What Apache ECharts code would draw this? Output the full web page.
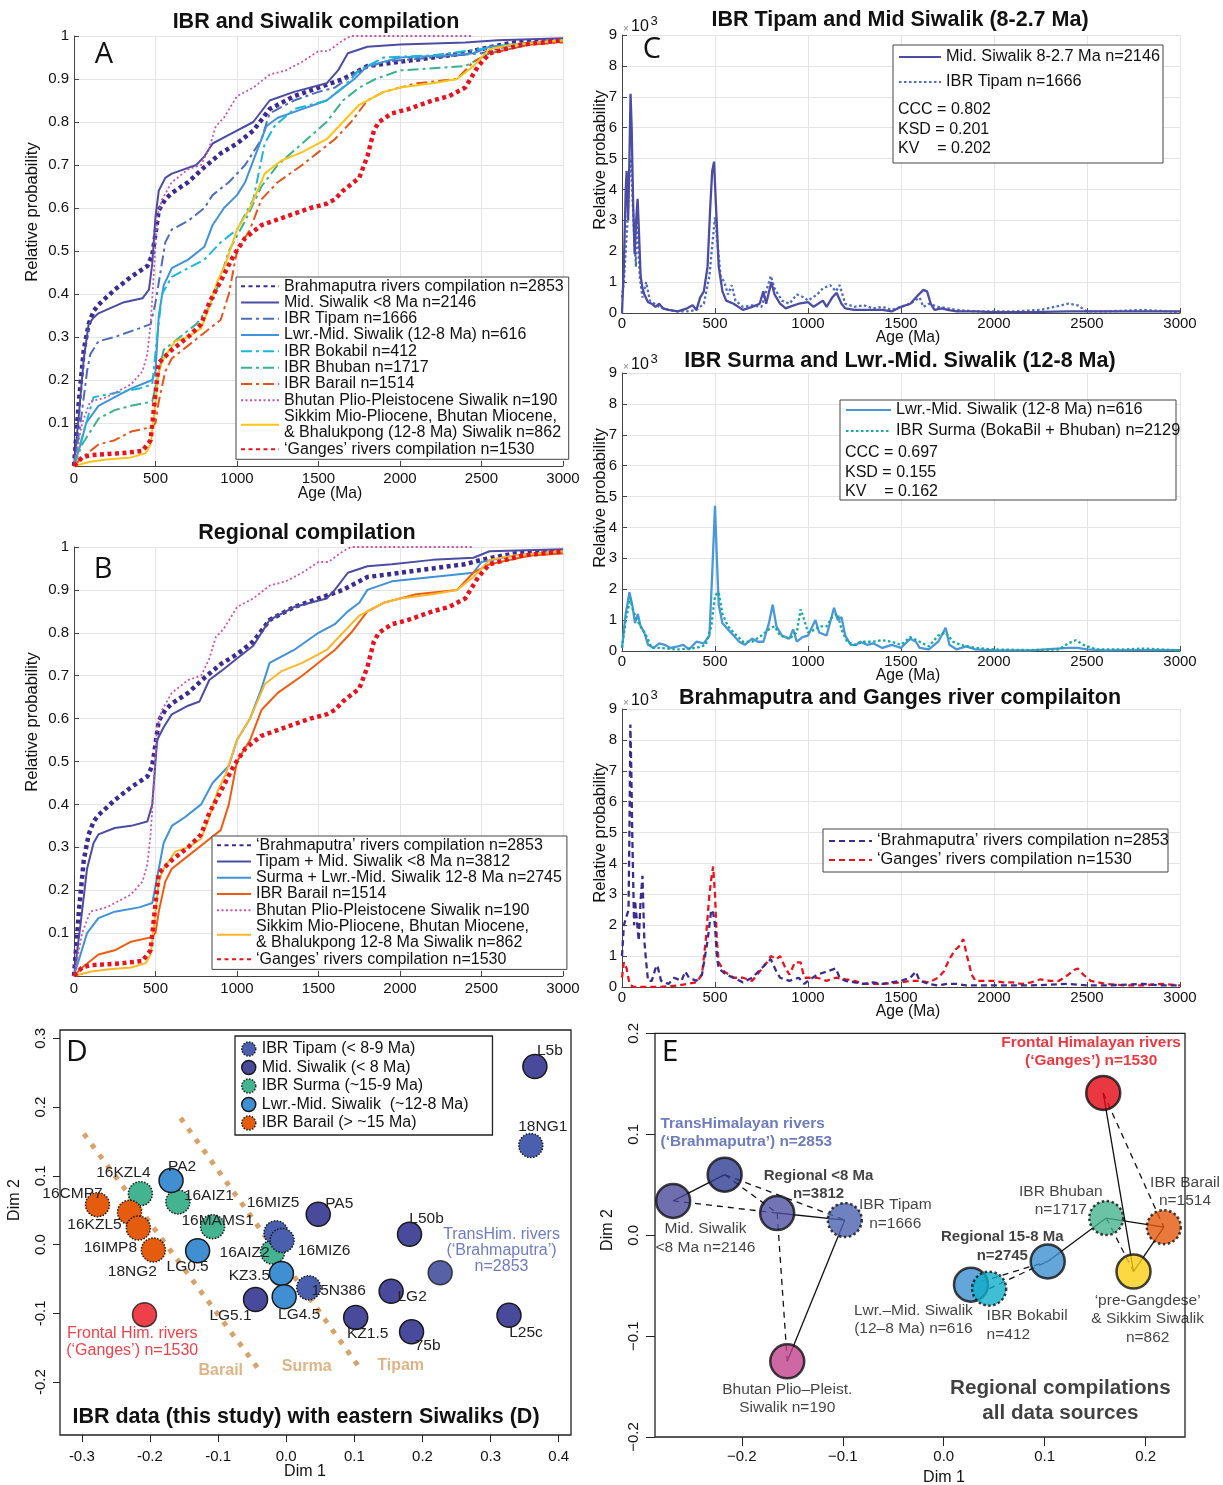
<!DOCTYPE html>
<html>
<head>
<meta charset="utf-8">
<script src="https://cdn.jsdelivr.net/npm/echarts@6/dist/echarts.min.js"></script>
<style>
  body { margin: 0; background: #fff; }
  .p { position: absolute; }
</style>
</head>
<body>
<div id="pa" class="p" style="left:0;top:0;width:590px;height:512px"></div>
<div id="pb" class="p" style="left:0;top:512px;width:590px;height:508px"></div>
<div id="pc1" class="p" style="left:590px;top:0;width:633px;height:345px"></div>
<div id="pc2" class="p" style="left:590px;top:345px;width:633px;height:340px"></div>
<div id="pc3" class="p" style="left:590px;top:685px;width:633px;height:335px"></div>
<div id="pd" class="p" style="left:0;top:1020px;width:595px;height:465px"></div>
<div id="pe" class="p" style="left:595px;top:1020px;width:628px;height:465px"></div>
<script>
// ---- cumulative curves (A, B): age (Ma) and relative probability ----
var brahmAge = [0, 30, 60, 90, 120, 150, 250, 350, 450, 480, 500, 520, 560, 600, 700, 800, 900, 1000, 1100, 1200, 1350, 1500, 1650, 1800, 2000, 2200, 2400, 2500, 2700, 3000];
var brahmCdf = [0, 0.15, 0.27, 0.33, 0.36, 0.375, 0.41, 0.44, 0.465, 0.49, 0.54, 0.595, 0.62, 0.635, 0.66, 0.695, 0.727, 0.75, 0.78, 0.83, 0.86, 0.88, 0.90, 0.93, 0.94, 0.95, 0.96, 0.97, 0.985, 0.99];
var midAge = [0, 30, 60, 90, 120, 150, 300, 420, 460, 480, 500, 520, 560, 600, 750, 800, 850, 950, 1100, 1200, 1350, 1550, 1620, 1680, 1800, 2000, 2400, 2600, 3000];
var midCdf = [0, 0.12, 0.25, 0.33, 0.345, 0.355, 0.38, 0.39, 0.41, 0.47, 0.58, 0.64, 0.67, 0.68, 0.70, 0.72, 0.75, 0.77, 0.80, 0.85, 0.87, 0.89, 0.92, 0.96, 0.975, 0.98, 0.985, 0.99, 0.995];
var tipamAge = [0, 40, 80, 100, 150, 250, 400, 470, 500, 530, 560, 600, 700, 800, 850, 950, 1050, 1150, 1200, 1350, 1500, 1600, 1750, 1900, 2200, 2500, 2700, 3000];
var tipamCdf = [0, 0.1, 0.22, 0.26, 0.29, 0.30, 0.32, 0.33, 0.38, 0.45, 0.52, 0.55, 0.57, 0.60, 0.63, 0.66, 0.70, 0.76, 0.82, 0.85, 0.87, 0.88, 0.92, 0.94, 0.95, 0.96, 0.98, 0.99];
var lwrAge = [0, 40, 75, 150, 250, 350, 480, 500, 520, 550, 600, 700, 800, 850, 920, 1000, 1050, 1100, 1180, 1250, 1400, 1550, 1650, 1720, 1800, 2000, 2300, 2450, 2550, 2800, 3000];
var lwrCdf = [0, 0.05, 0.1, 0.14, 0.16, 0.18, 0.2, 0.22, 0.35, 0.42, 0.46, 0.48, 0.51, 0.56, 0.60, 0.63, 0.66, 0.71, 0.79, 0.81, 0.83, 0.85, 0.88, 0.90, 0.93, 0.95, 0.955, 0.96, 0.975, 0.985, 0.99];
var bokaAge = [0, 60, 120, 250, 400, 480, 510, 540, 600, 700, 800, 900, 1000, 1100, 1170, 1230, 1350, 1450, 1550, 1650, 1750, 1900, 2200, 2500, 2700, 3000];
var bokaCdf = [0, 0.08, 0.16, 0.17, 0.18, 0.19, 0.30, 0.40, 0.44, 0.46, 0.48, 0.52, 0.55, 0.62, 0.75, 0.79, 0.83, 0.84, 0.85, 0.88, 0.92, 0.95, 0.955, 0.97, 0.98, 0.99];
var bhubAge = [0, 50, 150, 250, 350, 480, 510, 550, 650, 750, 850, 900, 950, 1050, 1150, 1250, 1400, 1550, 1650, 1750, 1850, 2000, 2400, 2550, 2800, 3000];
var bhubCdf = [0, 0.05, 0.11, 0.13, 0.14, 0.15, 0.2, 0.27, 0.30, 0.33, 0.38, 0.44, 0.50, 0.57, 0.65, 0.70, 0.75, 0.80, 0.85, 0.88, 0.90, 0.92, 0.93, 0.96, 0.98, 0.99];
var barAge = [0, 50, 150, 250, 350, 470, 500, 520, 560, 600, 700, 800, 900, 950, 1000, 1080, 1150, 1250, 1400, 1500, 1600, 1700, 1800, 1900, 2100, 2350, 2450, 2550, 2800, 3000];
var barCdf = [0, 0.02, 0.05, 0.06, 0.08, 0.09, 0.1, 0.15, 0.22, 0.25, 0.28, 0.31, 0.34, 0.40, 0.50, 0.55, 0.62, 0.66, 0.70, 0.73, 0.76, 0.80, 0.85, 0.87, 0.89, 0.90, 0.94, 0.96, 0.98, 0.985];
var bhutAge = [0, 50, 100, 200, 300, 350, 420, 450, 470, 490, 510, 540, 600, 700, 780, 830, 870, 920, 1000, 1100, 1200, 1300, 1400, 1500, 1560, 1650, 1700, 2450];
var bhutCdf = [0, 0.1, 0.15, 0.16, 0.18, 0.19, 0.22, 0.26, 0.33, 0.45, 0.58, 0.62, 0.66, 0.69, 0.70, 0.74, 0.79, 0.81, 0.86, 0.88, 0.91, 0.92, 0.94, 0.965, 0.965, 0.99, 1.0, 1.0];
var sikAge = [0, 100, 200, 350, 440, 470, 500, 520, 550, 620, 700, 780, 830, 880, 930, 1000, 1080, 1170, 1270, 1400, 1550, 1650, 1750, 1900, 2000, 2200, 2350, 2450, 2550, 2700, 3000];
var sikCdf = [0, 0.01, 0.015, 0.02, 0.03, 0.05, 0.15, 0.22, 0.25, 0.29, 0.30, 0.32, 0.37, 0.43, 0.47, 0.55, 0.60, 0.68, 0.71, 0.73, 0.76, 0.80, 0.84, 0.87, 0.88, 0.89, 0.90, 0.93, 0.97, 0.98, 0.99];
var gangAge = [0, 50, 100, 300, 420, 470, 495, 520, 600, 700, 780, 830, 900, 980, 1050, 1150, 1300, 1450, 1550, 1600, 1650, 1750, 1800, 1840, 1870, 1950, 2050, 2200, 2300, 2400, 2480, 2550, 2750, 3000];
var gangCdf = [0, 0.02, 0.025, 0.03, 0.035, 0.06, 0.15, 0.24, 0.27, 0.30, 0.33, 0.38, 0.43, 0.49, 0.53, 0.56, 0.58, 0.60, 0.61, 0.62, 0.64, 0.67, 0.72, 0.78, 0.80, 0.82, 0.83, 0.85, 0.86, 0.88, 0.93, 0.96, 0.98, 0.99];
var tipMidAge = [0, 40, 80, 120, 150, 250, 350, 450, 480, 510, 550, 600, 700, 770, 830, 900, 1000, 1100, 1200, 1350, 1550, 1600, 1680, 1800, 1950, 2200, 2450, 2550, 3000];
var tipMidCdf = [0, 0.12, 0.25, 0.31, 0.33, 0.345, 0.35, 0.36, 0.40, 0.55, 0.58, 0.61, 0.63, 0.64, 0.69, 0.71, 0.74, 0.77, 0.83, 0.86, 0.88, 0.90, 0.94, 0.955, 0.96, 0.97, 0.975, 0.99, 0.995];
var surLwrAge = [0, 40, 80, 150, 250, 400, 480, 520, 550, 600, 680, 780, 850, 950, 1000, 1080, 1150, 1200, 1350, 1500, 1600, 1680, 1750, 1800, 1950, 2200, 2450, 2500, 2700, 3000];
var surLwrCdf = [0, 0.05, 0.1, 0.135, 0.15, 0.16, 0.17, 0.25, 0.31, 0.35, 0.37, 0.40, 0.45, 0.49, 0.55, 0.60, 0.67, 0.73, 0.76, 0.80, 0.82, 0.85, 0.87, 0.90, 0.92, 0.93, 0.94, 0.965, 0.98, 0.99];

// ---- probability density curves (C), values x 10^-3 ----
var pMidAge = [0, 10, 20, 25, 33, 40, 46, 52, 60, 68, 76, 84, 92, 100, 110, 120, 140, 160, 180, 200, 220, 250, 300, 350, 380, 400, 420, 440, 460, 475, 485, 495, 505, 520, 540, 560, 600, 650, 700, 740, 760, 775, 803, 820, 850, 880, 900, 950, 1000, 1030, 1080, 1100, 1130, 1154, 1180, 1200, 1250, 1300, 1400, 1450, 1500, 1550, 1580, 1620, 1640, 1660, 1680, 1720, 1750, 1800, 1900, 2000, 2200, 2400, 2500, 2800, 3000];
var pMidVal = [0, 1.5, 4.0, 4.6, 3.0, 5.0, 7.1, 6.0, 3.5, 1.9, 3.0, 3.7, 2.5, 1.2, 0.8, 0.6, 0.35, 0.3, 0.2, 0.3, 0.15, 0.1, 0.05, 0.15, 0.25, 0.1, 0.5, 0.7, 1.5, 3.5, 4.6, 4.9, 3.5, 1.5, 0.7, 0.4, 0.3, 0.1, 0.2, 0.3, 0.7, 0.3, 1.0, 0.6, 0.3, 0.15, 0.2, 0.3, 0.35, 0.2, 0.4, 0.2, 0.5, 0.65, 0.3, 0.15, 0.1, 0.1, 0.1, 0.05, 0.2, 0.3, 0.5, 0.75, 0.7, 0.3, 0.1, 0.15, 0.1, 0.05, 0.05, 0.03, 0.03, 0.05, 0.05, 0.05, 0.05];
var pTipAge = [0, 10, 20, 30, 40, 50, 55, 65, 75, 80, 85, 95, 110, 130, 150, 200, 250, 300, 350, 400, 440, 470, 490, 500, 510, 530, 550, 570, 590, 610, 650, 700, 750, 780, 800, 820, 860, 900, 940, 980, 1000, 1050, 1080, 1120, 1150, 1170, 1200, 1250, 1300, 1350, 1400, 1450, 1500, 1550, 1600, 1620, 1650, 1700, 1750, 1800, 1900, 2000, 2100, 2250, 2400, 2450, 2500, 2600, 2800, 3000];
var pTipVal = [0.5, 1.0, 2.0, 3.0, 4.5, 5.0, 4.0, 2.5, 1.5, 3.0, 2.8, 1.2, 0.5, 1.0, 0.4, 0.2, 0.1, 0.05, 0.05, 0.1, 0.3, 1.2, 2.5, 3.1, 2.5, 1.2, 1.0, 0.6, 0.9, 0.4, 0.2, 0.25, 0.2, 0.8, 1.2, 0.8, 0.4, 0.3, 0.6, 0.5, 0.4, 0.6, 0.8, 0.9, 0.7, 0.9, 0.3, 0.2, 0.25, 0.15, 0.2, 0.1, 0.2, 0.3, 0.5, 0.2, 0.3, 0.2, 0.15, 0.1, 0.05, 0.05, 0.05, 0.1, 0.3, 0.25, 0.05, 0.05, 0.1, 0.03];
var pLwrAge = [0, 20, 40, 55, 70, 85, 100, 120, 140, 170, 200, 230, 260, 300, 330, 360, 400, 440, 470, 485, 500, 510, 520, 540, 570, 600, 630, 660, 700, 730, 760, 790, 810, 830, 860, 900, 920, 940, 970, 1000, 1040, 1060, 1100, 1140, 1160, 1180, 1200, 1230, 1260, 1280, 1320, 1350, 1400, 1450, 1500, 1550, 1580, 1600, 1650, 1700, 1740, 1760, 1800, 1850, 1900, 2000, 2200, 2400, 2450, 2500, 2600, 2800, 3000];
var pLwrVal = [0.1, 1.2, 1.9, 1.5, 0.9, 1.2, 0.8, 0.6, 0.2, 0.1, 0.25, 0.2, 0.1, 0.15, 0.2, 0.05, 0.3, 0.25, 0.5, 2.5, 4.7, 3.0, 1.5, 0.9, 0.7, 0.5, 0.3, 0.2, 0.4, 0.3, 0.3, 0.9, 1.5, 0.8, 0.5, 0.4, 0.7, 0.3, 0.45, 0.5, 1.0, 0.6, 0.5, 1.4, 1.0, 1.1, 0.5, 0.2, 0.2, 0.3, 0.2, 0.25, 0.1, 0.2, 0.1, 0.4, 0.3, 0.1, 0.05, 0.3, 0.75, 0.2, 0.05, 0.15, 0.05, 0.02, 0.02, 0.1, 0.1, 0.05, 0.02, 0.03, 0.03];
var pSurAge = [0, 20, 45, 60, 80, 100, 130, 160, 200, 300, 400, 450, 480, 500, 520, 540, 570, 600, 650, 700, 750, 790, 820, 850, 900, 940, 960, 980, 1000, 1040, 1060, 1100, 1130, 1160, 1180, 1210, 1250, 1300, 1350, 1400, 1450, 1500, 1550, 1600, 1650, 1700, 1740, 1780, 1820, 1900, 2000, 2200, 2350, 2400, 2440, 2480, 2550, 2700, 2800, 2900, 3000];
var pSurVal = [0.1, 1.0, 1.7, 1.3, 1.0, 0.8, 0.5, 0.1, 0.1, 0.05, 0.1, 0.2, 0.8, 1.8, 1.9, 1.2, 0.8, 0.6, 0.3, 0.3, 0.5, 0.7, 0.8, 0.5, 0.4, 0.6, 1.35, 1.0, 0.6, 0.7, 0.8, 0.8, 1.1, 1.2, 0.7, 0.3, 0.2, 0.3, 0.3, 0.35, 0.3, 0.2, 0.45, 0.3, 0.15, 0.5, 0.6, 0.3, 0.2, 0.1, 0.05, 0.03, 0.05, 0.25, 0.35, 0.2, 0.05, 0.05, 0.08, 0.05, 0.02];
var pBraAge = [0, 10, 20, 35, 40, 45, 50, 55, 65, 70, 80, 90, 100, 110, 120, 130, 140, 160, 180, 190, 210, 250, 280, 320, 340, 360, 400, 430, 460, 480, 490, 500, 510, 520, 560, 600, 650, 700, 750, 780, 800, 830, 850, 900, 950, 980, 1000, 1050, 1100, 1150, 1170, 1200, 1250, 1300, 1350, 1400, 1450, 1500, 1550, 1580, 1600, 1650, 1700, 1750, 1800, 1850, 1900, 2000, 2200, 2400, 2500, 2600, 2800, 2900, 3000];
var pBraVal = [1.0, 2.0, 2.2, 2.5, 5.0, 8.5, 7.0, 5.0, 2.0, 2.8, 2.8, 1.5, 2.8, 3.6, 1.5, 0.8, 0.2, 0.2, 0.6, 0.7, 0.2, 0.1, 0.3, 0.2, 0.5, 0.3, 0.2, 0.4, 1.5, 2.5, 2.4, 2.0, 1.0, 0.6, 0.4, 0.3, 0.15, 0.3, 0.6, 0.8, 0.9, 0.5, 0.3, 0.2, 0.3, 0.1, 0.2, 0.4, 0.5, 0.6, 0.3, 0.2, 0.15, 0.1, 0.15, 0.1, 0.15, 0.2, 0.3, 0.5, 0.2, 0.1, 0.05, 0.1, 0.1, 0.05, 0.05, 0.05, 0.05, 0.1, 0.05, 0.05, 0.1, 0.05, 0.05];
var pGanAge = [0, 10, 25, 40, 60, 100, 200, 300, 350, 400, 430, 450, 470, 480, 490, 500, 510, 520, 550, 600, 650, 700, 740, 780, 800, 830, 850, 880, 900, 930, 960, 980, 1000, 1050, 1100, 1150, 1200, 1250, 1300, 1400, 1500, 1550, 1600, 1650, 1700, 1730, 1760, 1790, 1810, 1835, 1855, 1880, 1900, 1950, 2000, 2050, 2100, 2150, 2200, 2250, 2300, 2350, 2400, 2430, 2450, 2480, 2520, 2600, 2700, 2800, 2900, 3000];
var pGanVal = [0.3, 0.8, 0.6, 0.1, 0, 0, 0, 0.05, 0.1, 0.15, 0.4, 1.5, 3.0, 3.5, 3.9, 3.0, 1.5, 0.8, 0.5, 0.3, 0.3, 0.2, 0.5, 0.8, 1.0, 0.9, 1.0, 0.6, 0.4, 0.8, 0.8, 0.3, 0.3, 0.3, 0.2, 0.3, 0.25, 0.2, 0.1, 0.1, 0.15, 0.2, 0.2, 0.15, 0.3, 0.5, 0.9, 1.2, 1.3, 1.55, 1.0, 0.4, 0.2, 0.2, 0.2, 0.15, 0.15, 0.1, 0.15, 0.25, 0.2, 0.2, 0.4, 0.55, 0.6, 0.4, 0.2, 0.1, 0.05, 0.05, 0.1, 0.05];

// ---- MDS panel D ----
var tipNames = ['18NG1', '16MIZ5', '16MIZ6', '15N386'];
var tipX = [0.359, -0.015, -0.006, 0.033];
var tipY = [0.144, 0.017, 0.006, -0.063];
var midNames = ['L5b', 'PA5', 'L50b', 'LG2', 'KZ1.5', '75b', 'L25c', 'LG5.1'];
var midX = [0.365, 0.047, 0.181, 0.154, 0.102, 0.184, 0.327, -0.045];
var midY = [0.259, 0.044, 0.015, -0.068, -0.106, -0.127, -0.103, -0.080];
var surNames = ['16KZL4', '16AIZ1', '16MAMS1', '16AIZ2'];
var surX = [-0.214, -0.159, -0.108, -0.020];
var surY = [0.074, 0.062, 0.026, -0.011];
var lwrNames = ['PA2', 'LG0.5', 'KZ3.5', 'LG4.5'];
var lwrX = [-0.169, -0.130, -0.007, -0.003];
var lwrY = [0.093, -0.009, -0.042, -0.076];
var barNames = ['16CMP7', '16KZL5', '16IMP8', '18NG2'];
var barX = [-0.277, -0.230, -0.217, -0.195];
var barY = [0.058, 0.047, 0.024, -0.008];
var riverX = [0.226, -0.208];
var riverY = [-0.041, -0.102];
var barailLineX = [-0.297, -0.037];
var barailLineY = [0.161, -0.186];
var surmaLineX = [-0.155, 0.111];
var surmaLineY = [0.184, -0.184];
var dTicksX = [-0.3, -0.2, -0.1, 0, 0.1, 0.2, 0.3, 0.4];
var dTicksY = [-0.2, -0.1, 0, 0.1, 0.2, 0.3];

// ---- MDS panel E ----
var eNames = ['Brahmaputra', 'MidSiwalik', 'Regional8', 'Tipam', 'Bhutan', 'Ganges', 'Bhuban', 'Barail', 'Sikkim', 'Regional158', 'LwrMid', 'Bokabil'];
var eX = [-0.217, -0.268, -0.165, -0.098, -0.155, 0.158, 0.161, 0.218, 0.188, 0.103, 0.027, 0.045];
var eY = [0.060, 0.034, 0.022, 0.015, -0.125, 0.141, 0.017, 0.008, -0.036, -0.026, -0.049, -0.053];
var eSolid = [['MidSiwalik', 'Brahmaputra'], ['Regional8', 'Tipam'], ['Tipam', 'Bhutan'], ['Ganges', 'Sikkim'], ['Bhuban', 'Barail'], ['Barail', 'Sikkim'], ['Regional158', 'Bhuban']];
var eDashed = [['Brahmaputra', 'Regional8'], ['Brahmaputra', 'Tipam'], ['MidSiwalik', 'Regional8'], ['Regional8', 'Bhutan'], ['Ganges', 'Barail'], ['Bhuban', 'Sikkim'], ['LwrMid', 'Regional158'], ['Bokabil', 'Regional158']];
var eTicks = [-0.2, -0.1, 0, 0.1, 0.2];

// ---------------------------------------------------------------
var FONT = '"Liberation Sans", Arial, Helvetica, sans-serif';
var LFONT = '"Open Sans", "DejaVu Sans", sans-serif';

function xy(xs, ys) {
	return xs.map(function (x, i) { return [x, ys[i]]; });
}

function txt(x, y, s, o) {
	o = o || {};
	return {
		type: 'text', x: x, y: y, rotation: o.rot || 0, z: 100,
		style: {
			text: s, fontSize: o.size || 14, fontWeight: o.bold ? 'bold' : 'normal',
			fontFamily: o.font || FONT, fill: o.color || '#111',
			align: o.align || 'center', verticalAlign: 'middle', lineHeight: o.lh
		}
	};
}

function ln(name, xs, ys, color, width, type) {
	return {
		name: name, type: 'line', data: xy(xs, ys), symbol: 'none', showSymbol: false,
		silent: true, lineStyle: { color: color, width: width, type: type || 'solid', cap: 'butt' },
		itemStyle: { color: color }
	};
}

function ageAxis(labelMargin) {
	return {
		type: 'value', min: 0, max: 3000, interval: 500,
		axisLine: { show: true, lineStyle: { color: '#444' } },
		axisTick: { show: true, inside: true, length: 5, lineStyle: { color: '#444' } },
		axisLabel: { color: '#111', fontSize: 15, margin: labelMargin, fontFamily: FONT, formatter: function (v) { return String(v); } },
		splitLine: { show: true, lineStyle: { color: '#e4e4e4' } }
	};
}

function leftAxis(max, step, fmt) {
	return {
		type: 'value', min: 0, max: max, interval: step,
		axisLine: { show: true, lineStyle: { color: '#444' } },
		axisTick: { show: true, inside: true, length: 5, lineStyle: { color: '#444' } },
		axisLabel: { color: '#111', fontSize: 15, margin: 5, fontFamily: FONT, formatter: fmt },
		splitLine: { show: true, lineStyle: { color: '#e4e4e4' } }
	};
}

function probFmt(v) {
	if (v === 0) return '';
	if (Math.abs(v - 1) < 1e-9) return '1';
	return v.toFixed(1);
}

function lineLegend(left, top, iconW, names) {
	return {
		orient: 'vertical', left: left, top: top, itemWidth: iconW, itemHeight: 10, itemGap: 0,
		data: names, selectedMode: false, backgroundColor: '#fff', borderColor: '#444', borderWidth: 1,
		borderRadius: 0, padding: [1, 5, 2, 4], z: 10, itemStyle: { opacity: 0 },
		textStyle: { fontSize: 16, lineHeight: 16.3, color: '#111', fontFamily: FONT }
	};
}

var DOTS = [4, 3.5];
var DASHDOT = [11, 4, 3, 4];

// ---------------- Panel A ----------------
var namesA = [
	'Brahmaputra rivers compilation n=2853',
	'Mid. Siwalik <8 Ma n=2146',
	'IBR Tipam n=1666',
	'Lwr.-Mid. Siwalik (12-8 Ma) n=616',
	'IBR Bokabil n=412',
	'IBR Bhuban n=1717',
	'IBR Barail n=1514',
	'Bhutan Plio-Pleistocene Siwalik n=190',
	'Sikkim Mio-Pliocene, Bhutan Miocene,\n& Bhalukpong (12-8 Ma) Siwalik n=862',
	'\u2018Ganges\u2019 rivers compilation n=1530'
];
echarts.init(document.getElementById('pa')).setOption({
	animation: false,
	grid: { left: 74, top: 36, width: 489, height: 430 },
	xAxis: ageAxis(5),
	yAxis: leftAxis(1, 0.1, probFmt),
	legend: lineLegend(236, 277, 38, namesA),
	series: [
		ln(namesA[0], brahmAge, brahmCdf, '#3d2c8d', 4.5, DOTS),
		ln(namesA[1], midAge, midCdf, '#4b4ca2', 2),
		ln(namesA[2], tipamAge, tipamCdf, '#4f6cb8', 2, DASHDOT),
		ln(namesA[3], lwrAge, lwrCdf, '#4391d6', 2),
		ln(namesA[4], bokaAge, bokaCdf, '#1fb5d8', 2, DASHDOT),
		ln(namesA[5], bhubAge, bhubCdf, '#3db18d', 2, DASHDOT),
		ln(namesA[6], barAge, barCdf, '#e2561c', 2, DASHDOT),
		ln(namesA[7], bhutAge, bhutCdf, '#c655a8', 1.8, [2, 2.5]),
		ln(namesA[8], sikAge, sikCdf, '#fcc419', 2),
		ln(namesA[9], gangAge, gangCdf, '#e6141f', 4.5, DOTS)
	],
	graphic: [
		txt(316, 22, 'IBR and Siwalik compilation', { size: 21.5, bold: true }),
		txt(104, 55, 'A', { size: 29, font: LFONT }),
		txt(32, 212, 'Relative probability', { size: 16.5, rot: Math.PI / 2 }),
		txt(330, 494, 'Age (Ma)', { size: 15.7 })
	]
});

// ---------------- Panel B ----------------
var namesB = [
	'\u2018Brahmaputra\u2019 rivers compilation n=2853',
	'Tipam + Mid. Siwalik <8 Ma n=3812',
	'Surma + Lwr.-Mid. Siwalik 12-8 Ma n=2745',
	'IBR Barail n=1514',
	'Bhutan Plio-Pleistocene Siwalik n=190',
	'Sikkim Mio-Pliocene, Bhutan Miocene,\n& Bhalukpong 12-8 Ma Siwalik n=862',
	'\u2018Ganges\u2019 rivers compilation n=1530'
];
echarts.init(document.getElementById('pb')).setOption({
	animation: false,
	grid: { left: 74, top: 35, width: 489, height: 429 },
	xAxis: ageAxis(5),
	yAxis: leftAxis(1, 0.1, probFmt),
	legend: lineLegend(212, 324, 34, namesB),
	series: [
		ln(namesB[0], brahmAge, brahmCdf, '#3d2c8d', 4.5, DOTS),
		ln(namesB[1], tipMidAge, tipMidCdf, '#4b4ca2', 2),
		ln(namesB[2], surLwrAge, surLwrCdf, '#3f91d8', 2),
		ln(namesB[3], barAge, barCdf, '#ec5d12', 2),
		ln(namesB[4], bhutAge, bhutCdf, '#c655a8', 1.8, [2, 2.5]),
		ln(namesB[5], sikAge, sikCdf, '#fbb62b', 2),
		ln(namesB[6], gangAge, gangCdf, '#e6141f', 4.5, DOTS)
	],
	graphic: [
		txt(307, 21, 'Regional compilation', { size: 21.5, bold: true }),
		txt(103, 58, 'B', { size: 29, font: LFONT }),
		txt(32, 210, 'Relative probability', { size: 16.5, rot: Math.PI / 2 })
	]
});

// ---------------- Panels C ----------------
function pdpPanel(id, top, title, titleY, names, series, leg, stats, extra) {
	var g = [
		txt(310, titleY, title, { size: 21.5, bold: true }),
		txt(36, top - 6, '\u00d7', { size: 10, color: '#888' }),
		txt(50, top - 8, '10', { size: 16 }),
		txt(64, top - 14, '3', { size: 13 }),
		txt(10, leg.yName, 'Relative probability', { size: 16.5, rot: Math.PI / 2 }),
		txt(318, top + 278 + 25, 'Age (Ma)', { size: 15.7 }),
		{
			type: 'rect', z: 9, shape: { x: leg.x, y: leg.y, width: leg.w, height: leg.h },
			style: { fill: '#fff', stroke: '#444', lineWidth: 1 }
		}
	];
	stats.forEach(function (s, i) {
		g.push(txt(leg.x + 5, leg.statY + i * leg.statGap, s, { size: 16, align: 'left' }));
	});
	if (extra) g = g.concat(extra);
	echarts.init(document.getElementById(id)).setOption({
		animation: false,
		grid: { left: 32, top: top, width: 558, height: 278 },
		xAxis: ageAxis(3),
		yAxis: leftAxis(9, 1, function (v) { return String(v); }),
		legend: {
			orient: 'vertical', left: leg.x + 5, top: leg.itemTop, itemWidth: leg.iconW, itemHeight: 10,
			itemGap: leg.gap, data: names, selectedMode: false, z: 20, padding: 0, itemStyle: { opacity: 0 },
			textStyle: { fontSize: 16.3, lineHeight: 16, color: '#111', fontFamily: FONT }
		},
		series: series,
		graphic: g
	});
}

var c1 = ['Mid. Siwalik 8-2.7 Ma n=2146', 'IBR Tipam n=1666'];
pdpPanel('pc1', 35, 'IBR Tipam and Mid Siwalik (8-2.7 Ma)', 20, c1, [
	ln(c1[1], pTipAge, pTipVal, '#4f6cb8', 2.3, [2.5, 2.5]),
	ln(c1[0], pMidAge, pMidVal, '#4b4ca2', 2.3)
], { x: 303, y: 45, w: 270, h: 118, itemTop: 49, iconW: 42, gap: 9, statY: 110, statGap: 19.5, yName: 160 },
	['CCC = 0.802', 'KSD = 0.201', 'KV    = 0.202'],
	[txt(62, 50, 'C', { size: 29, font: LFONT })]);

var c2 = ['Lwr.-Mid. Siwalik (12-8 Ma) n=616', 'IBR Surma (BokaBil + Bhuban) n=2129'];
pdpPanel('pc2', 28, 'IBR Surma and Lwr.-Mid. Siwalik (12-8 Ma)', 16, c2, [
	ln(c2[0], pLwrAge, pLwrVal, '#4a97da', 2.3),
	ln(c2[1], pSurAge, pSurVal, '#17a99c', 2.3, [2.5, 2.5])
], { x: 250, y: 55, w: 336, h: 100, itemTop: 57, iconW: 45, gap: 5, statY: 108, statGap: 19.5, yName: 153 },
	['CCC = 0.697', 'KSD = 0.155', 'KV    = 0.162']);

var c3 = ['\u2018Brahmaputra\u2019 rivers compilation n=2853', '\u2018Ganges\u2019 rivers compilation n=1530'];
pdpPanel('pc3', 24, 'Brahmaputra and Ganges river compilaiton', 13, c3, [
	ln(c3[1], pGanAge, pGanVal, '#e6141f', 2.3, [6, 4]),
	ln(c3[0], pBraAge, pBraVal, '#3d2c8d', 2.3, [6, 4])
], { x: 233, y: 144, w: 345, h: 43, itemTop: 148, iconW: 43, gap: 3, statY: 0, statGap: 0, yName: 148 }, []);

// ---------------- Panel D ----------------
var dLabelOffset = {
	'L5b': [15, -16], '18NG1': [12, -19], 'PA2': [11, -14], '16KZL4': [-17, -21], '16AIZ1': [31, -6],
	'16CMP7': [-25, -11], '16KZL5': [-35, 13], '16IMP8': [-28, 20], '18NG2': [-21, 22], '16MAMS1': [5, -6],
	'LG0.5': [-10, 16], '16MIZ5': [-3, -30], '16MIZ6': [42, 10], '16AIZ2': [-28, 1], 'KZ3.5': [-32, 2],
	'15N386': [30, 3], 'LG5.1': [-25, 16], 'LG4.5': [15, 18], 'PA5': [21, -11], 'L50b': [17, -16],
	'LG2': [21, 5], 'KZ1.5': [12, 16], '75b': [16, 14], 'L25c': [17, 17]
};

function dGroup(name, names, xs, ys, color, dotted) {
	return {
		name: name, type: 'scatter', symbol: 'circle', symbolSize: 24, z: 5,
		itemStyle: { color: color, borderColor: '#1a1a1a', borderWidth: 1.5, borderType: dotted ? 'dotted' : 'solid', opacity: 1 },
		label: { show: true, position: 'inside', formatter: '{b}', color: '#222', fontSize: 15.5, fontFamily: FONT },
		data: names.map(function (n, i) {
			return { name: n, value: [xs[i], ys[i]], label: { offset: dLabelOffset[n] } };
		})
	};
}

function notes(list) {
	return {
		type: 'scatter', symbolSize: 1, silent: true, z: 8, itemStyle: { color: 'transparent' },
		data: list.map(function (n) {
			return {
				value: n.at, label: {
					show: true, position: n.left ? 'right' : 'inside', distance: 0, formatter: n.text,
					color: n.color || '#111', fontSize: n.size || 15.5, fontWeight: n.bold ? 'bold' : 'normal',
					lineHeight: n.lh || 17, align: n.left ? 'left' : 'center', fontFamily: FONT
				}
			};
		})
	};
}

function mdsAxis(pos, min, max, ticks, fmt, rotate, margin, tickLen) {
	return {
		type: 'value', position: pos, min: min, max: max,
		axisLine: { show: false, onZero: false }, splitLine: { show: false },
		axisTick: { show: true, customValues: ticks, length: tickLen, lineStyle: { color: '#222' } },
		axisLabel: { customValues: ticks, formatter: fmt, fontSize: 15, color: '#111', margin: margin, rotate: rotate, fontFamily: FONT }
	};
}

function tanLine(xs, ys) {
	return {
		type: 'line', data: xy(xs, ys), symbol: 'none', silent: true, z: 3,
		lineStyle: { color: '#d6a36c', width: 5, type: [5, 8], cap: 'butt' }
	};
}

var dLegendNames = ['IBR Tipam (< 8-9 Ma)', 'Mid. Siwalik (< 8 Ma)', 'IBR Surma (~15-9 Ma)', 'Lwr.-Mid. Siwalik  (~12-8 Ma)', 'IBR Barail (> ~15 Ma)'];
var dLegendDotted = [true, false, true, false, true];
var fmtD = function (v) { return v.toFixed(1); };
echarts.init(document.getElementById('pd')).setOption({
	animation: false,
	grid: { left: 60, top: 10, width: 511, height: 405, show: true, borderColor: '#222', borderWidth: 1.3 },
	xAxis: mdsAxis('bottom', -0.332, 0.418, dTicksX, fmtD, 0, 14, 7),
	yAxis: mdsAxis('left', -0.277, 0.312, dTicksY, fmtD, 90, 12, 7),
	legend: {
		orient: 'vertical', left: 235, top: 16, itemWidth: 16, itemHeight: 14, itemGap: 2.5,
		data: dLegendNames.map(function (n, i) {
			return { name: n, itemStyle: { borderType: dLegendDotted[i] ? 'dotted' : 'solid', borderWidth: 1.5, borderColor: '#1a1a1a' } };
		}),
		selectedMode: false, icon: 'circle', backgroundColor: '#fff',
		borderColor: '#222', borderWidth: 1.3, borderRadius: 0, padding: [5, 24, 4, 6], z: 10,
		textStyle: { fontSize: 16, lineHeight: 16, color: '#111', fontFamily: FONT }
	},
	series: [
		tanLine(barailLineX, barailLineY),
		tanLine(surmaLineX, surmaLineY),
		dGroup(dLegendNames[2], surNames, surX, surY, '#44b38f', true),
		dGroup(dLegendNames[4], barNames, barX, barY, '#e65c0f', true),
		dGroup(dLegendNames[1], midNames, midX, midY, '#4a4a9c', false),
		dGroup(dLegendNames[0], tipNames, tipX, tipY, '#4a5fae', true),
		dGroup(dLegendNames[3], lwrNames, lwrX, lwrY, '#3f8fd2', false),
		{
			type: 'scatter', symbolSize: 24, z: 5,
			itemStyle: { borderColor: '#1a1a1a', borderWidth: 1.5 },
			data: [
				{ value: [riverX[0], riverY[0]], itemStyle: { color: '#2c3b8e' } },
				{ value: [riverX[1], riverY[1]], itemStyle: { color: '#e8101c' } }
			]
		},
		notes([
			{ text: 'TransHim. rivers\n(\u2018Brahmaputra\u2019)\nn=2853', at: [0.316, -0.009], color: '#4a5aae', size: 16, lh: 16 },
			{ text: 'Frontal Him. rivers\n(\u2018Ganges\u2019) n=1530', at: [-0.226, -0.142], color: '#e8101c', size: 16, lh: 16.5 },
			{ text: 'Barail', at: [-0.096, -0.183], color: '#d4a06a', bold: true, size: 16 },
			{ text: 'Surma', at: [0.030, -0.178], color: '#d4a06a', bold: true, size: 16 },
			{ text: 'Tipam', at: [0.168, -0.176], color: '#d4a06a', bold: true, size: 16 }
		])
	],
	graphic: [
		txt(77, 32, 'D', { size: 30, font: LFONT }),
		txt(306, 397, 'IBR data (this study) with eastern Siwaliks (D)', { size: 21.5, bold: true }),
		txt(15, 180, 'Dim 2', { size: 16, rot: Math.PI / 2 }),
		txt(305, 452, 'Dim 1', { size: 16 })
	]
});

// ---------------- Panel E ----------------
var eStyle = {
	Brahmaputra: ['#2e3d91', false], MidSiwalik: ['#4e4a9c', false], Regional8: ['#4f51a2', false],
	Tipam: ['#4b62ae', true], Bhutan: ['#c2428f', false], Ganges: ['#e30613', false],
	Bhuban: ['#47b38e', true], Barail: ['#e5580c', true], Sikkim: ['#fbcf13', false],
	Regional158: ['#3d8fd1', false], LwrMid: ['#3d8fd1', false], Bokabil: ['#10aecb', true]
};
function ePt(n) {
	var i = eNames.indexOf(n);
	return [eX[i], eY[i]];
}
function eLink(pair, dashed) {
	return {
		type: 'line', data: [ePt(pair[0]), ePt(pair[1])], symbol: 'none', silent: true, z: 3,
		lineStyle: { color: '#111', width: 1.3, type: dashed ? [6, 5] : 'solid' }
	};
}
var fmtE = function (v) { return (v < -1e-9 ? '\u2212' : '') + Math.abs(v).toFixed(1); };
var eSeries = eSolid.map(function (p) { return eLink(p, false); })
	.concat(eDashed.map(function (p) { return eLink(p, true); }));
eSeries.push({
	type: 'scatter', symbolSize: 34, z: 5,
	data: eNames.map(function (n, i) {
		return {
			value: [eX[i], eY[i]],
			itemStyle: { color: eStyle[n][0], borderColor: '#111', borderWidth: 2.5, borderType: eStyle[n][1] ? 'dotted' : 'solid' }
		};
	})
});
eSeries.push(notes([
	{ text: 'Frontal Himalayan rivers\n(\u2018Ganges\u2019) n=1530', at: [0.146, 0.182], color: '#e30613', bold: true, size: 15.4, lh: 18 },
	{ text: 'TransHimalayan rivers\n(\u2018Brahmaputra\u2019) n=2853', at: [-0.281, 0.102], color: '#4a5aad', bold: true, size: 15.4, lh: 18, left: true },
	{ text: 'Regional <8 Ma\nn=3812', at: [-0.124, 0.050], bold: true, size: 15, lh: 18.5 },
	{ text: 'IBR Tipam\nn=1666', at: [-0.048, 0.021], size: 15.5, lh: 18.5 },
	{ text: 'Mid. Siwalik\n<8 Ma n=2146', at: [-0.236, -0.003], size: 15.5, lh: 18.5 },
	{ text: 'Bhutan Plio\u2013Pleist.\nSiwalik n=190', at: [-0.155, -0.162], size: 15.5, lh: 18.5 },
	{ text: 'IBR Bhuban\nn=1717', at: [0.116, 0.034], size: 15.5, lh: 18.5 },
	{ text: 'IBR Barail\nn=1514', at: [0.239, 0.043], size: 15.5, lh: 18.5 },
	{ text: 'Regional 15-8 Ma\nn=2745', at: [0.058, -0.011], bold: true, size: 15, lh: 18.5 },
	{ text: 'Lwr.\u2013Mid. Siwalik\n(12\u20138 Ma) n=616', at: [-0.030, -0.084], size: 15.5, lh: 18.5 },
	{ text: 'IBR Bokabil\nn=412', at: [0.042, -0.089], size: 15.5, lh: 18.5, left: true },
	{ text: '\u2018pre-Gangdese\u2019\n& Sikkim Siwalik\nn=862', at: [0.202, -0.083], size: 15.5, lh: 18.5 },
	{ text: 'Regional compilations\nall data sources', at: [0.1155, -0.164], bold: true, size: 20.7, lh: 25 }
]));
echarts.init(document.getElementById('pe')).setOption({
	animation: false,
	grid: { left: 60, top: 13, width: 530, height: 404, show: true, borderColor: '#222', borderWidth: 1.3 },
	xAxis: mdsAxis('bottom', -0.286, 0.239, eTicks, fmtE, 0, 12, 9),
	yAxis: mdsAxis('left', -0.2, 0.2, eTicks, fmtE, 90, 14, 9),
	series: eSeries,
	graphic: [
		txt(75, 32, 'E', { size: 30, font: LFONT }),
		txt(13, 210, 'Dim 2', { size: 16, rot: Math.PI / 2 }),
		txt(349, 458, 'Dim 1', { size: 16 })
	]
});
</script>
</body>
</html>
